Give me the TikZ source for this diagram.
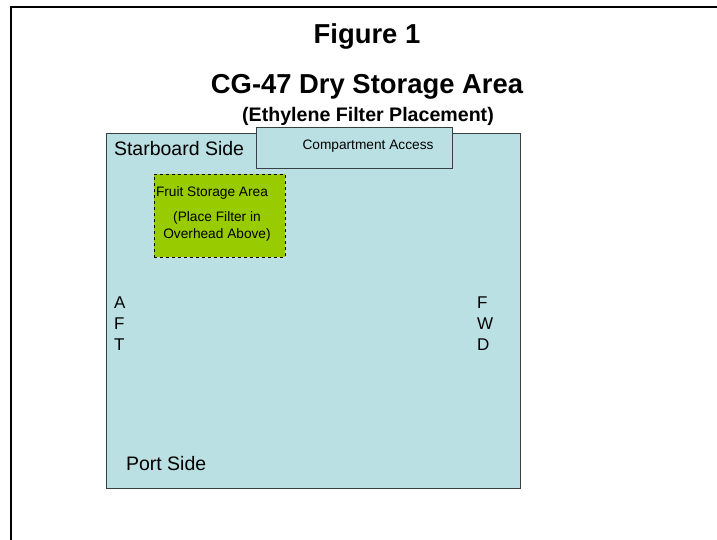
\documentclass[tikz,border=0pt]{standalone}
\usepackage{fontspec}
\setmainfont{Liberation Sans}
\usetikzlibrary{positioning}

\definecolor{deckblue}{RGB}{186,224,227}
\definecolor{fruitgreen}{RGB}{153,204,0}
\definecolor{edgegray}{RGB}{55,65,65}

\newcommand{\px}[1]{\fontsize{#1}{#1}\selectfont}

\begin{document}
\begin{tikzpicture}[
    x=1pt, y=-1pt,
    every node/.style={inner sep=0pt, outer sep=0pt, text=black},
    deck/.style={rectangle, draw=edgegray, line width=0.9pt, fill=deckblue},
    fruitbox/.style={rectangle, draw=black, dashed, line width=0.7pt, fill=fruitgreen},
    heading/.style={font=\px{27.4}\bfseries, anchor=base},
    sidelabel/.style={font=\px{19.5}, anchor=base west},
    smalllabel/.style={font=\px{13.7}, anchor=base},
    letter/.style={font=\px{17}, anchor=base west}
]
\useasboundingbox (0,0) rectangle (717,540);

% page frame (only top and left edges show)
\coordinate (frameTR) at (717,7);
\coordinate (frameTL) at (11,7);
\coordinate (frameBL) at (11,540);
\draw[line width=2pt] (frameTR) -- (frameTL) -- (frameBL);

% titles
\node[heading] (fig) at (367,44) {Figure 1};
\node[heading] (title) at (367,94) {CG-47 Dry Storage Area};
\node[font=\px{19.6}\bfseries, anchor=base] (subtitle) at (368,122) {(Ethylene Filter Placement)};

% storage room
\node[deck, minimum width=414pt, minimum height=355pt, anchor=north west] (room) at (106,133) {};

% compartment access
\node[deck, minimum width=196pt, minimum height=41pt, anchor=north west] (access) at (256,127) {};
\node[smalllabel] (accesstxt) at (368,150) {Compartment Access};

% fruit storage area
\node[fruitbox, minimum width=131pt, minimum height=83pt, anchor=north west] (fruit) at (154,174) {};
\node[smalllabel, anchor=base west] (fruittxt) at (156,196.5) {Fruit Storage Area};
\node[smalllabel] (filtertxt) at (217,221.5) {(Place Filter in};
\node[smalllabel] (overheadtxt) at (217,238.5) {Overhead Above)};

% sides
\node[sidelabel] (starboard) at (114,156) {Starboard Side};
\node[sidelabel] (port) at (126,470) {Port Side};

% aft / fwd
\node[letter] (aftA) at (114,308) {A};
\node[letter] (aftF) at (114,329) {F};
\node[letter] (aftT) at (114,350) {T};
\node[letter] (fwdF) at (477,308) {F};
\node[letter] (fwdW) at (477,329) {W};
\node[letter] (fwdD) at (477,350) {D};

\end{tikzpicture}
\end{document}
